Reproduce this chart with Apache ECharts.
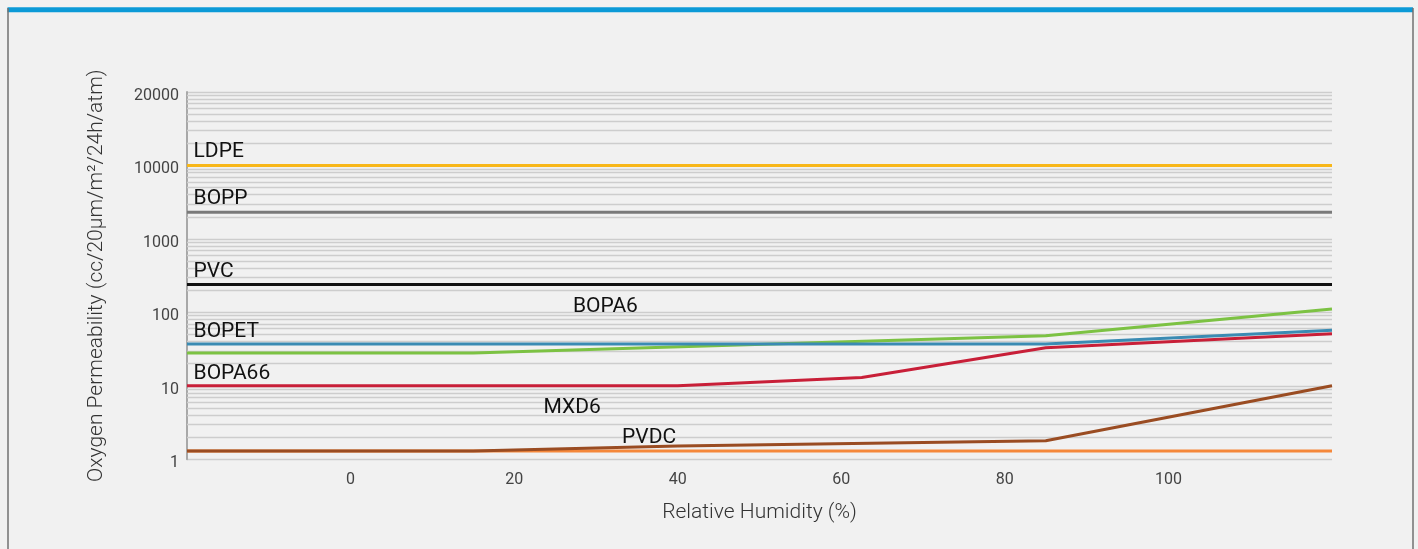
<!DOCTYPE html>
<html>
<head>
<meta charset="utf-8">
<script src="https://cdn.jsdelivr.net/npm/echarts@6/dist/echarts.min.js"></script>
<style>
html,body{margin:0;padding:0;background:#f1f1f1;}
#chart{width:1418px;height:549px;}
</style>
</head>
<body>
<div id="chart"></div>
<script>
// ---- data ----
const seriesNames = ['LDPE','BOPP','PVC','BOPET','BOPA6','BOPA66','MXD6','PVDC'];
const LDPE   = [[-20,10000],[120,10000]];
const BOPP   = [[-20,2300],[120,2300]];
const PVC    = [[-20,240],[120,240]];
const BOPET  = [[-20,37],[85,37],[120,57]];
const BOPA6  = [[-20,28],[15,28],[85,48],[120,111]];
const BOPA66 = [[-20,10],[40,10],[62.5,13],[85,33],[120,51]];
const MXD6   = [[-20,1.3],[15,1.3],[40,1.52],[85,1.79],[120,10]];
const PVDC   = [[-20,1.3],[120,1.3]];
const xTicks = [0,20,40,60,80,100];
const yTickLabels = {1:'1',10:'10',100:'100',1000:'1000',10000:'10000',100000:'20000'};
// label anchor points (data coordinates) for the series names
const labelAnchors = {
  LDPE:[-19.2,16150], BOPP:[-19.2,3700], PVC:[-19.2,382], BOPA6:[27.2,128],
  BOPET:[-19.2,58], BOPA66:[-19.2,15.6], MXD6:[23.6,5.35], PVDC:[33.2,2.06]
};
const colors = {
  LDPE:'#f8b719', BOPP:'#7a7a7a', PVC:'#111111', BOPET:'#3a8bb3',
  BOPA6:'#7cc243', BOPA66:'#c81f38', MXD6:'#9a4c22', PVDC:'#f5883b'
};
const seriesData = {LDPE,BOPP,PVC,BOPET,BOPA6,BOPA66,MXD6,PVDC};
// minor grid values (2..9 in each decade)
const minorGrid = [];
[1,10,100,1000,10000].forEach(d => { for (let k=2;k<=9;k++) minorGrid.push(k*d); });

const FONT = 'Roboto, "Noto Sans", sans-serif';
const chart = echarts.init(document.getElementById('chart'));

const drawOrder = ['PVDC','LDPE','BOPP','PVC','BOPA6','BOPET','BOPA66','MXD6'];
const series = [{
  type:'line', data:[], silent:true, z:1,
  markLine:{
    silent:true, symbol:'none', animation:false,
    label:{show:false},
    lineStyle:{color:'#cdcdcd', width:1.3, type:'solid'},
    emphasis:{disabled:true},
    data: minorGrid.map(v => ({yAxis:v}))
  }
}];
drawOrder.forEach((name,i) => {
  series.push({
    name, type:'line', data: seriesData[name], z: 3+i,
    symbol:'none', smooth:false, animation:false,
    lineStyle:{color:colors[name], width:3},
    itemStyle:{color:colors[name]},
    markPoint:{
      silent:true, animation:false,
      symbol:'circle', symbolSize:0,
      data:[{coord: labelAnchors[name], value: name}],
      label:{show:true, position:'right', distance:0, offset:[0,2], formatter:name,
        color:'#111', fontSize:21, fontFamily:FONT}
    }
  });
});

chart.setOption({
  backgroundColor:'#f1f1f1',
  animation:false,
  grid:{left:187, right:86, top:92, bottom:89.7, containLabel:false},
  xAxis:{
    type:'value', min:-20, max:120, interval:20,
    name:'Relative Humidity (%)', nameLocation:'middle', nameGap:43,
    nameTextStyle:{color:'#333', fontSize:21, fontFamily:FONT, fontWeight:300},
    axisLine:{show:false}, axisTick:{show:false}, splitLine:{show:false},
    axisLabel:{color:'#444', fontSize:16, fontFamily:FONT, margin:13,
      formatter: v => xTicks.indexOf(v) >= 0 ? String(v) : ''}
  },
  yAxis:{
    type:'log', logBase:10, min:1, max:100000,
    name:'Oxygen Permeability (cc/20μm/m²/24h/atm)', nameLocation:'middle', nameGap:80,
    nameTextStyle:{color:'#333', fontSize:21, fontFamily:FONT, fontWeight:300},
    axisLine:{show:true, onZero:false, lineStyle:{color:'#a8a8a8', width:2}},
    axisTick:{show:false},
    splitLine:{show:true, lineStyle:{color:'#cdcdcd', width:1.3}},
    axisLabel:{color:'#444', fontSize:16, fontFamily:FONT, margin:8,
      verticalAlign:'top', lineHeight:8,
      formatter: v => yTickLabels[Math.round(v)] || ''}
  },
  graphic:[
    {type:'rect', shape:{x:7.5, y:7.3, width:1405.5, height:5}, style:{fill:'#0c9ad7'}, z:100},
    {type:'line', shape:{x1:8, y1:8, x2:8, y2:549}, style:{stroke:'#707070', lineWidth:1.5}, z:100},
    {type:'line', shape:{x1:1413, y1:8, x2:1413, y2:549}, style:{stroke:'#707070', lineWidth:1.5}, z:100}
  ],
  series
});
</script>
</body>
</html>
